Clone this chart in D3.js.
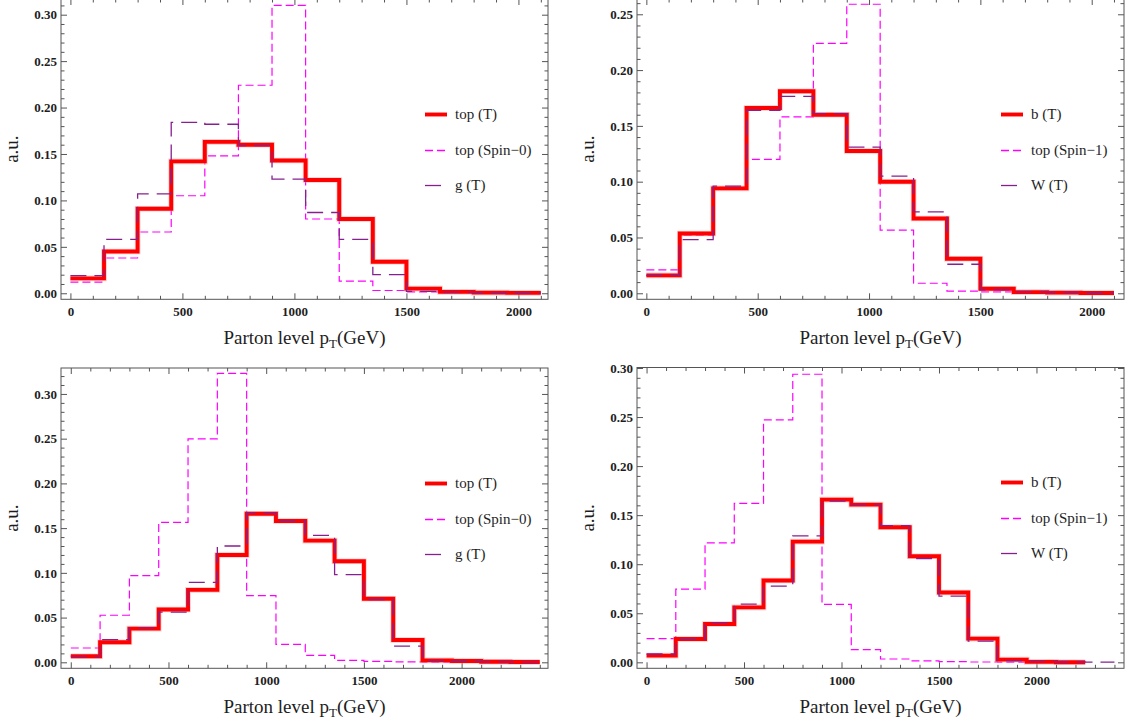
<!DOCTYPE html>
<html>
<head>
<meta charset="utf-8">
<title>Parton level pT</title>
<style>
  body { margin: 0; background: #fff; }
  svg { display: block; }
  text { font-family: "Liberation Serif", "DejaVu Serif", serif; fill: #1e1e1e; }
</style>
</head>
<body>

<div id="chart"></div>

<script src="https://d3js.org/d3.v7.min.js"></script>
<script type="text/javascript">
var width = 1127, height = 723;

// bin edges in GeV
var edgesTop = [0, 150, 300, 450, 600, 750, 900, 1050, 1200, 1350, 1500, 1650, 1800, 1950, 2100];
var edgesBottom = [0, 150, 300, 450, 600, 750, 900, 1050, 1200, 1350, 1500, 1650, 1800, 1950, 2100, 2250, 2400];

// top left : top (T), top (Spin-0), g (T)
var tlTopT   = [0.016, 0.045, 0.091, 0.142, 0.163, 0.160, 0.143, 0.122, 0.080, 0.034, 0.005, 0.0015, 0.0007, 0.0004];
var tlSpin0  = [0.012, 0.038, 0.066, 0.105, 0.148, 0.224, 0.310, 0.080, 0.013, 0.003, 0.0014, 0.0007, 0.0003, 0.0002];
var tlGluonT = [0.019, 0.058, 0.107, 0.184, 0.182, 0.159, 0.123, 0.087, 0.058, 0.020, 0.002, 0.0012, 0.0006, 0.0002];

// top right : b (T), top (Spin-1), W (T)
var trBottomT = [0.016, 0.0535, 0.094, 0.166, 0.181, 0.160, 0.1275, 0.100, 0.067, 0.031, 0.004, 0.001, 0.0006, 0.0003];
var trSpin1   = [0.021, 0.052, 0.095, 0.120, 0.158, 0.224, 0.259, 0.0565, 0.009, 0.002, 0.0012, 0.0006, 0.0003, 0.0002];
var trWT      = [0.016, 0.048, 0.096, 0.164, 0.1765, 0.161, 0.131, 0.105, 0.073, 0.026, 0.003, 0.0012, 0.0009, 0.0003];

// bottom left : top (T), top (Spin-0), g (T)
var blTopT   = [0.0067, 0.0224, 0.0376, 0.059, 0.081, 0.120, 0.166, 0.158, 0.136, 0.113, 0.071, 0.025, 0.0022, 0.0015, 0.0007, 0.0004];
var blSpin0  = [0.016, 0.0526, 0.097, 0.1565, 0.2497, 0.323, 0.0745, 0.020, 0.0078, 0.0022, 0.0011, 0.0004, 0.0002, 0.0001, 0.0001, 0.0];
var blGluonT = [0.0067, 0.0253, 0.0384, 0.056, 0.0894, 0.130, 0.167, 0.158, 0.142, 0.098, 0.070, 0.018, 0.0022, 0.0011, 0.0004, 0.0002];

// bottom right : b (T), top (Spin-1), W (T)
var brBottomT = [0.0068, 0.0237, 0.039, 0.056, 0.0834, 0.123, 0.1658, 0.1607, 0.1376, 0.1081, 0.0712, 0.0241, 0.0027, 0.0004, 0.0001];
var brSpin1   = [0.0241, 0.0746, 0.1217, 0.162, 0.2471, 0.2936, 0.059, 0.0129, 0.0034, 0.0014, 0.0007, 0.0003, 0.0002, 0.0001, 0.0];
var brWT      = [0.0085, 0.0234, 0.0403, 0.0593, 0.0776, 0.1288, 0.1644, 0.161, 0.1393, 0.1058, 0.0675, 0.0217, 0.0017, 0.0007, 0.0003, 0.0002];

var legendTop = ["top (T)", "top (Spin\u22120)", "g (T)"];
var legendB   = ["b (T)", "top (Spin\u22121)", "W (T)"];
var xTicks = [0, 500, 1000, 1500, 2000];

var panels = [
  { frame: [61, 548, -1, 299.3],   xd: [-42, 2132], yd: [-0.0065, 0.3169], edges: edgesTop,
    series: [tlSpin0, tlTopT, tlGluonT], names: legendTop },
  { frame: [637, 1124, -1, 299.3], xd: [-42, 2145], yd: [-0.0054, 0.2637], edges: edgesTop,
    series: [trSpin1, trBottomT, trWT], names: legendB },
  { frame: [61, 548, 368, 668.3],  xd: [-50, 2442], yd: [-0.0067, 0.329], edges: edgesBottom,
    series: [blSpin0, blTopT, blGluonT], names: legendTop },
  { frame: [637, 1124, 367.5, 668.3], xd: [-49, 2449], yd: [-0.0061, 0.3005], edges: edgesBottom,
    series: [brSpin1, brBottomT, brWT], names: legendB }
];

var colRed = "#ff0000", colMag = "#ff00ff", colPur = "#86208f";

var svg = d3.select("#chart")
  .append("svg")
  .attr("width", width)
  .attr("height", height);

var fmt = d3.format(".2f");

function stepPoints(edges, vals) {
  var pts = vals.map(function(v, i) { return [edges[i], v]; });
  pts.push([edges[vals.length], vals[vals.length - 1]]);
  return pts;
}

panels.forEach(function(p) {
  var f = p.frame;
  var x = d3.scaleLinear().domain(p.xd).range([f[0], f[1]]);
  var y = d3.scaleLinear().domain(p.yd).range([f[3], f[2]]);
  var g = svg.append("g");

  var minorX = d3.range(0, p.xd[1], 100).filter(function(d) { return d % 500 !== 0; });
  var yMax = Math.floor(p.yd[1] * 100 + 1e-6);
  var yAll = d3.range(0, yMax + 1).map(function(d) { return d / 100; });
  var majorY = yAll.filter(function(d, i) { return i % 5 === 0; });
  var minorY = yAll.filter(function(d, i) { return i % 5 !== 0; });

  function ax(axis, tr, vals, size, labels, pad) {
    var a = g.append("g").attr("transform", tr)
      .call(axis.tickValues(vals).tickSize(size).tickPadding(pad || 3)
        .tickFormat(labels ? labels : ""));
    a.select(".domain").remove();
    a.selectAll("line").attr("stroke", "#555");
    a.selectAll("text").attr("font-size", 13).attr("font-weight", "bold").attr("fill", "#2a2a2a")
      .style("font-family", "'Liberation Serif', serif");
    return a;
  }

  // ticks on all four sides, pointing in
  ax(d3.axisBottom(x), "translate(0," + f[3] + ")", minorX, -3.5);
  ax(d3.axisBottom(x), "translate(0," + f[3] + ")", xTicks, -6, d3.format("d"), 7);
  ax(d3.axisTop(x), "translate(0," + f[2] + ")", minorX, -3.5);
  ax(d3.axisTop(x), "translate(0," + f[2] + ")", xTicks, -6);
  ax(d3.axisLeft(y), "translate(" + f[0] + ",0)", minorY, -3.5);
  ax(d3.axisLeft(y), "translate(" + f[0] + ",0)", majorY, -6, fmt, 4);
  ax(d3.axisRight(y), "translate(" + f[1] + ",0)", minorY, -3.5);
  ax(d3.axisRight(y), "translate(" + f[1] + ",0)", majorY, -6);

  // histograms
  var line = d3.line()
    .x(function(d) { return x(d[0]); })
    .y(function(d) { return y(d[1]); })
    .curve(d3.curveStepAfter);

  var spin = p.series[0], main = p.series[1], alt = p.series[2];
  var plot = g.append("g");
  plot.append("path").attr("d", line(stepPoints(p.edges, spin)))
    .attr("fill", "none").attr("stroke", colMag).attr("stroke-width", 1.2)
    .attr("stroke-dasharray", "8,4");
  plot.append("path").attr("d", line(stepPoints(p.edges, main)))
    .attr("fill", "none").attr("stroke", "#ff9a9a").attr("stroke-width", 5.6)
    .attr("stroke-opacity", 0.5);
  plot.append("path").attr("d", line(stepPoints(p.edges, main)))
    .attr("fill", "none").attr("stroke", colRed).attr("stroke-width", 3.9);
  plot.append("path").attr("d", line(stepPoints(p.edges, alt)))
    .attr("fill", "none").attr("stroke", colPur).attr("stroke-width", 1.3)
    .attr("stroke-dasharray", "16,8");

  // frame
  g.append("rect")
    .attr("x", f[0]).attr("y", f[2])
    .attr("width", f[1] - f[0]).attr("height", f[3] - f[2])
    .attr("fill", "none").attr("stroke", "#555").attr("stroke-width", 1);

  // legend
  var lx = f[1] - 123, rows = [114.5, 150.5, 185.5];
  var styles = [
    { c: colRed, w: 3.9, d: null },
    { c: colMag, w: 1.5, d: "8,4" },
    { c: colPur, w: 1.3, d: "16,8" }
  ];
  p.names.forEach(function(name, i) {
    var ly = Math.round(f[2] + rows[i]) + 0.5;
    g.append("line")
      .attr("x1", lx).attr("x2", lx + 22).attr("y1", ly).attr("y2", ly)
      .attr("stroke", styles[i].c).attr("stroke-width", styles[i].w)
      .attr("stroke-dasharray", styles[i].d);
    g.append("text")
      .attr("x", lx + 30).attr("y", ly).attr("dy", "0.33em")
      .attr("font-size", 15)
      .text(name);
  });

  // axis labels
  var xl = g.append("text")
    .attr("x", (f[0] + f[1]) / 2).attr("y", f[3] + 44.5)
    .attr("text-anchor", "middle").attr("font-size", 19);
  xl.append("tspan").text("Parton level p");
  xl.append("tspan").attr("font-size", 13).attr("dy", 4).text("T");
  xl.append("tspan").attr("dy", -4).text("(GeV)");

  g.append("text")
    .attr("transform", "translate(" + (f[0] - 43) + "," + ((f[2] + f[3]) / 2) + ")rotate(-90)")
    .attr("text-anchor", "middle").attr("font-size", 19)
    .text("a.u.");
});
</script>
</body>
</html>
